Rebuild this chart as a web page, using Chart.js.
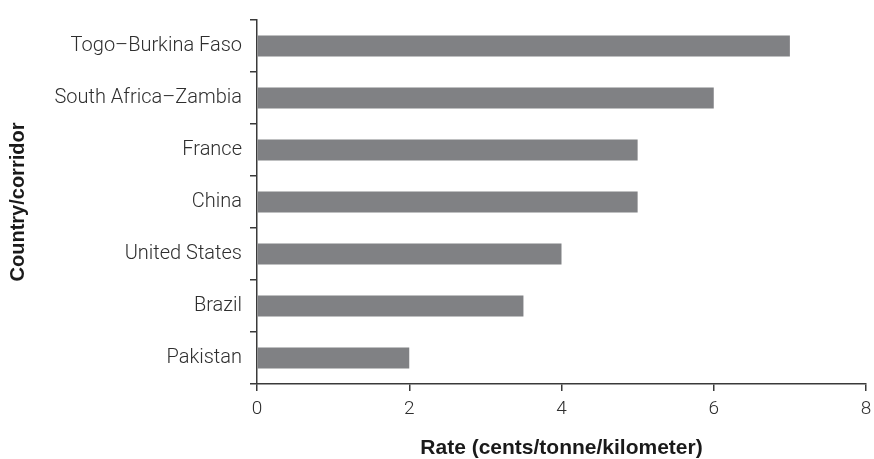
<!DOCTYPE html>
<html>
<head>
<meta charset="utf-8">
<style>
  html, body { margin: 0; padding: 0; background: #fff; }
  #wrap { width: 874px; height: 459px; }
</style>
<script src="https://cdn.jsdelivr.net/npm/chart.js@4/dist/chart.umd.min.js"></script>
</head>
<body>
<div id="wrap"><canvas id="rateChart" width="874" height="459"></canvas></div>
<script>
// data
const corridors = ['Togo–Burkina Faso', 'South Africa–Zambia', 'France', 'China', 'United States', 'Brazil', 'Pakistan'];
const rates = [7, 6, 5, 5, 4, 3.5, 2];
const xTicks = [0, 2, 4, 6, 8];

const axisColor = '#3a3a3a';
const textColor = '#2e2e2e';

const ctx = document.getElementById('rateChart').getContext('2d');
const rateChart = new Chart(ctx, {
    type: 'bar',
    data: {
        labels: corridors,
        datasets: [{
            label: 'Rate',
            data: rates,
            backgroundColor: '#808184',
            borderWidth: 0,
            barPercentage: 0.4,
            categoryPercentage: 1
        }]
    },
    options: {
        indexAxis: 'y',
        responsive: false,
        animation: false,
        devicePixelRatio: 1,
        layout: { padding: { top: 15, right: 8, left: 0, bottom: 0 } },
        plugins: {
            legend: { display: false },
            tooltip: { enabled: false }
        },
        scales: {
            x: {
                min: 0,
                max: 8,
                afterBuildTicks: function(scale) {
                    scale.ticks = xTicks.map(v => ({ value: v }));
                },
                afterFit: function(scale) {
                    scale.height = 75;
                    // let layout padding decide the right edge
                    scale.paddingLeft = 0;
                    scale.paddingRight = 0;
                },
                border: { display: true, color: axisColor, width: 1.5 },
                grid: { display: true, drawOnChartArea: false, drawTicks: true, tickLength: 7, color: axisColor, lineWidth: 1.5 },
                ticks: {
                    color: textColor,
                    padding: 7,
                    font: { family: 'Roboto', weight: '300', size: 19 }
                },
                title: {
                    display: true,
                    text: 'Rate (cents/tonne/kilometer)',
                    color: '#1a1a1a',
                    padding: { top: 0, bottom: 0 },
                    font: { family: 'Liberation Sans', weight: 'bold', size: 21, lineHeight: 1 }
                }
            },
            y: {
                afterFit: function(scale) { scale.width = 257; },
                border: { display: true, color: axisColor, width: 1.5 },
                grid: { display: true, drawOnChartArea: false, drawTicks: true, tickLength: 7, color: axisColor, lineWidth: 1.5 },
                ticks: {
                    color: textColor,
                    padding: 8,
                    font: { family: 'Roboto', weight: '300', size: 20 }
                },
                title: {
                    display: true,
                    text: 'Country/corridor',
                    color: '#1a1a1a',
                    padding: { top: 6, bottom: 0 },
                    font: { family: 'Liberation Sans', weight: 'bold', size: 20 }
                }
            }
        }
    }
});
</script>
</body>
</html>
